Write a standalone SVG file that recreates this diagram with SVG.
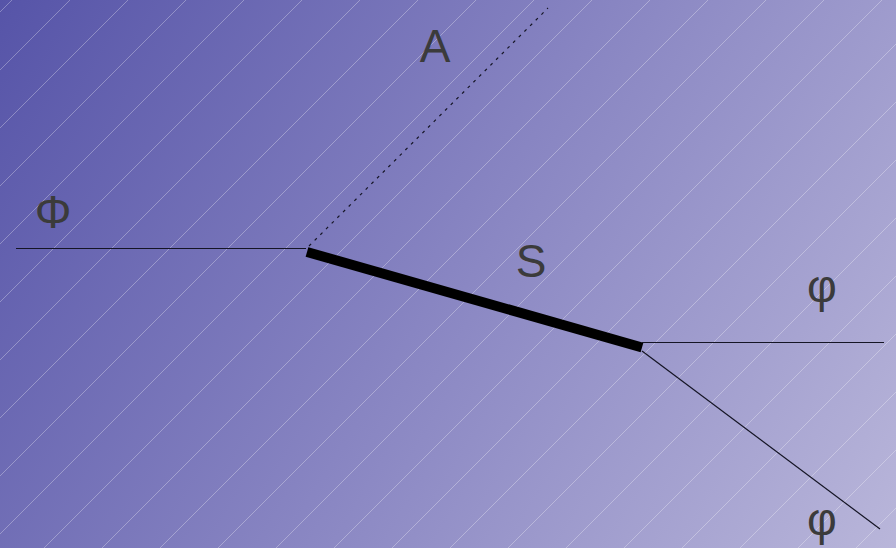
<svg xmlns="http://www.w3.org/2000/svg" width="896" height="548" viewBox="0 0 896 548">
  <defs>
    <linearGradient id="bg" gradientUnits="userSpaceOnUse" x1="0" y1="0" x2="896" y2="548">
      <stop offset="0" stop-color="#5654a8"/>
      <stop offset="0.5" stop-color="#8885c2"/>
      <stop offset="1" stop-color="#b9b6da"/>
    </linearGradient>
    <style>
      .hatch { stroke: #ffffff; stroke-opacity: 0.3; stroke-width: 1; fill: none; }
      .thin { stroke: #151525; stroke-width: 1.2; fill: none; }
      .thick { stroke: #000000; stroke-width: 10; fill: none; }
      .dot { stroke: #151525; stroke-width: 1.2; stroke-dasharray: 3 5; fill: none; }
      .lbl { font-family: "Liberation Sans", Arial, sans-serif; font-size: 46px; fill: #3b3b3b; text-anchor: middle; }
    </style>
  </defs>
  <rect width="896" height="548" fill="url(#bg)"/>
  <g id="hatching">
    <path class="hatch" d="M-536,548L12,0M-478,548L70,0M-420,548L128,0M-362,548L186,0M-304,548L244,0M-246,548L302,0M-188,548L360,0M-130,548L418,0M-72,548L476,0M-14,548L534,0M44,548L592,0M102,548L650,0M160,548L708,0M218,548L766,0M276,548L824,0M334,548L882,0M392,548L940,0M450,548L998,0M508,548L1056,0M566,548L1114,0M624,548L1172,0M682,548L1230,0M740,548L1288,0M798,548L1346,0M856,548L1404,0M914,548L1462,0"/>
  </g>
  <g id="connectors">
    <line class="thin" x1="16" y1="248.5" x2="306" y2="248.5"/>
    <line class="dot" x1="309" y1="246" x2="548" y2="8"/>
    <line class="thick" x1="307" y1="252" x2="642" y2="347.5"/>
    <line class="thin" x1="642" y1="342.5" x2="884" y2="342.5"/>
    <line class="thin" x1="642" y1="351" x2="880" y2="529"/>
  </g>
  <g id="label-Phi"><text class="lbl" x="53" y="228">Φ</text></g>
  <g id="label-A"><text class="lbl" x="435" y="62">A</text></g>
  <g id="label-S"><text class="lbl" x="531" y="277">S</text></g>
  <g id="label-phi1"><text class="lbl" x="822" y="302">φ</text></g>
  <g id="label-phi2"><text class="lbl" x="822" y="535">φ</text></g>
</svg>
